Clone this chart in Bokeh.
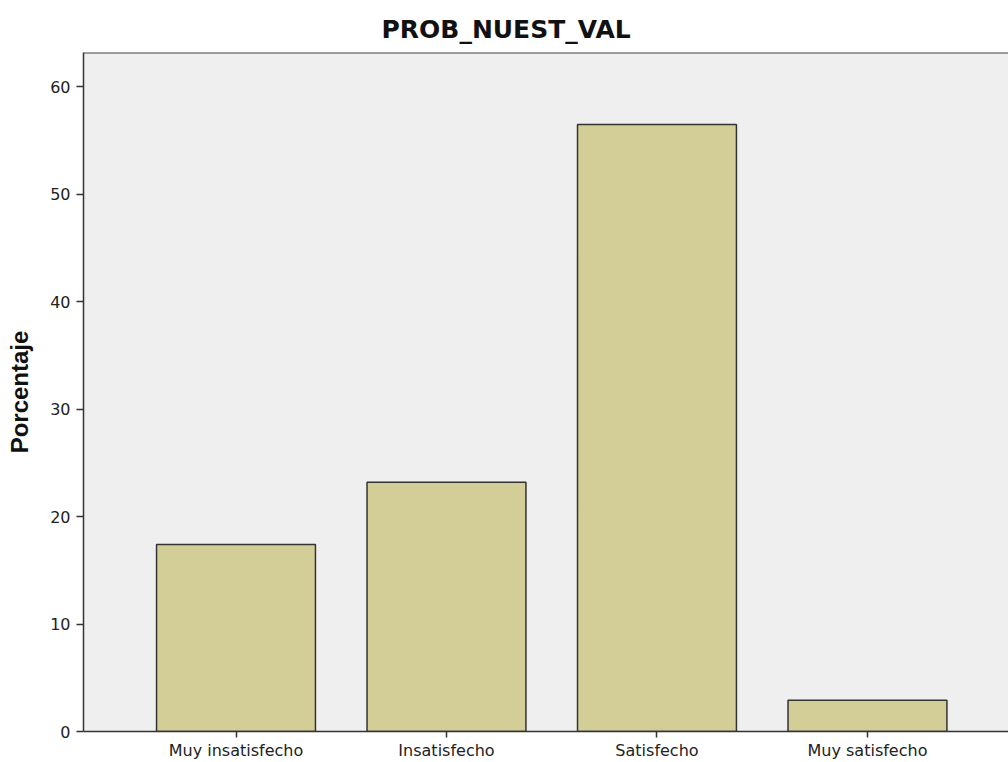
from bokeh.plotting import figure
from bokeh.models import FixedTicker, Span, Range1d
from bokeh.embed import file_html
from bokeh.resources import INLINE

title_text = "PROB_NUEST_VAL"
categories = ["Muy insatisfecho", "Insatisfecho", "Satisfecho", "Muy satisfecho"]
porcentaje = [17.4, 23.2, 56.5, 2.9]
y_ticks = [0, 10, 20, 30, 40, 50, 60]
y_label = "Porcentaje"

xs = [i + 1 for i in range(len(categories))]

p = figure(width=1008, height=762, output_backend="svg", toolbar_location=None,
           x_range=Range1d(0.2755, 4.67), y_range=Range1d(0, 63.2),
           min_border_left=83, min_border_right=0, min_border_top=52, min_border_bottom=31)

p.background_fill_color = "#efefef"
p.border_fill_color = "white"
p.outline_line_color = None
p.grid.visible = False

p.vbar(x=xs, top=porcentaje, bottom=0, width=0.755,
       fill_color="#d3ce97", line_color="#333333", line_width=1.5)

p.add_layout(Span(location=63.2, dimension="width", line_color="#444444", line_width=2))

p.title.text = title_text
p.title.align = "left"
p.title.offset = 298
p.title.text_font = "DejaVu Sans"
p.title.text_font_size = "25px"
p.title.text_font_style = "bold"
p.title.text_color = "#111111"
p.title.standoff = 18

ya = p.yaxis[0]
ya.ticker = FixedTicker(ticks=y_ticks)
ya.axis_label = y_label
ya.axis_label_text_font = "Liberation Sans"
ya.axis_label_text_font_size = "24px"
ya.axis_label_text_font_style = "bold"
ya.axis_label_text_color = "#111111"
ya.axis_label_standoff = 14
ya.major_label_text_font = "DejaVu Sans"
ya.major_label_text_font_size = "16px"
ya.major_label_text_color = "#222222"
ya.major_label_standoff = 6
ya.major_tick_out = 7
ya.major_tick_in = 0
ya.minor_tick_out = 0
ya.minor_tick_in = 0
ya.axis_line_color = "#333333"
ya.axis_line_width = 1.5
ya.major_tick_line_color = "#333333"
ya.major_tick_line_width = 1.5

xa = p.xaxis[0]
xa.ticker = FixedTicker(ticks=xs)
xa.major_label_overrides = {x: c for x, c in zip(xs, categories)}
xa.major_label_text_font = "DejaVu Sans"
xa.major_label_text_font_size = "16px"
xa.major_label_text_color = "#222222"
xa.major_label_standoff = 3
xa.axis_label_standoff = 0
xa.major_tick_out = 6
xa.major_tick_in = 0
xa.minor_tick_out = 0
xa.minor_tick_in = 0
xa.axis_line_color = "#333333"
xa.axis_line_width = 1.5
xa.major_tick_line_color = "#333333"
xa.major_tick_line_width = 1.5

open("out.html", "w").write(file_html(p, INLINE))
